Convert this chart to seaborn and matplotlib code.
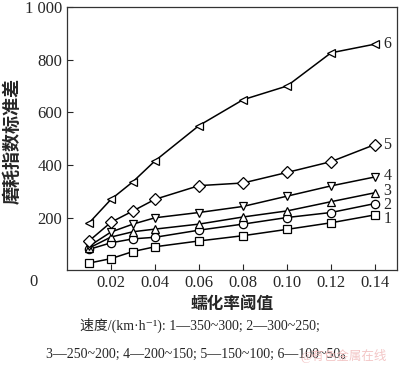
import seaborn as sns
import pandas as pd
import matplotlib.pyplot as plt

# -------------------------------
# DATA
# -------------------------------
thresholds = [0.01, 0.02, 0.03, 0.04, 0.06, 0.08, 0.10, 0.12, 0.14]

s1 = [28, 45, 72, 90, 112, 132, 156, 181, 211]
s2 = [80, 105, 120, 126, 153, 176, 201, 220, 254]
s3 = [85, 127, 147, 157, 176, 203, 226, 261, 295]
s4 = [92, 146, 176, 200, 220, 243, 282, 321, 355]
s5 = [112, 183, 226, 270, 322, 332, 372, 413, 478]
s6 = [180, 270, 337, 416, 550, 648, 700, 826, 859]

series_names = ["1", "2", "3", "4", "5", "6"]
series_vals = [s1, s2, s3, s4, s5, s6]
marker_map = {"1": "s", "2": "o", "3": "^", "4": "v", "5": "D", "6": "<"}

y_ticks = [200, 400, 600, 800, 1000]
y_ticklabels = ["200", "400", "600", "800", "1 000"]
x_ticks = [0.02, 0.04, 0.06, 0.08, 0.10, 0.12, 0.14]
x_ticklabels = ["0.02", "0.04", "0.06", "0.08", "0.10", "0.12", "0.14"]

caption1 = "速度/(km·h⁻¹): 1—350~300; 2—300~250;"
caption2 = "3—250~200; 4—200~150; 5—150~100; 6—100~50。"

rows = []
for name, vals in zip(series_names, series_vals):
    for x, v in zip(thresholds, vals):
        rows.append({"thr": x, "val": v, "series": name})
df = pd.DataFrame(rows)

# -------------------------------
# PLOT
# -------------------------------
sns.set_style("ticks")
plt.rcParams["font.family"] = ["Liberation Serif", "Noto Sans CJK SC", "DejaVu Sans"]

fig = plt.figure(figsize=(4.0, 3.67), dpi=100)
ax = fig.add_axes([0.1675, 0.263, 0.825, 0.718])

sns.lineplot(
    data=df, x="thr", y="val", style="series", markers=marker_map,
    dashes=False, color="black", linewidth=1.1, markersize=6,
    markerfacecolor="white", markeredgecolor="black", markeredgewidth=0.9,
    legend=False, ax=ax,
)

# series labels at the right end (small nudges where they crowd)
label_dy = {"1": -3, "2": -1, "3": 1.5, "4": 0.5, "5": 0, "6": 0}
for name, vals in zip(series_names, series_vals):
    ax.annotate(name, (thresholds[-1], vals[-1]), xytext=(6, label_dy[name]),
                textcoords="offset points", va="center", ha="left", fontsize=11.5)

ax.set_xlim(0, 0.15)
ax.set_ylim(0, 1000)
ax.set_xticks(x_ticks)
ax.set_xticklabels(x_ticklabels, fontsize=12)
ax.set_yticks(y_ticks)
ax.set_yticklabels(y_ticklabels, fontsize=12)
ax.tick_params(direction="in", length=4, width=0.8, top=False, right=False)

for sp in ax.spines.values():
    sp.set_visible(True)
    sp.set_color("#333333")
    sp.set_linewidth(0.9)

ax.text(-0.1, -0.045, "0", transform=ax.transAxes, ha="center", va="center", fontsize=12)

ax.set_xlabel("蠕化率阈值", fontsize=12, fontweight="bold", labelpad=4)
ax.set_ylabel("磨耗指数标准差", fontsize=13, fontweight="bold")
ax.yaxis.set_label_coords(-0.136, 0.49)

fig.text(0.5, 0.112, caption1, ha="center", va="center", fontsize=10)
fig.text(0.5, 0.035, caption2, ha="center", va="center", fontsize=10)
fig.text(0.86, 0.03, "@有色金属在线", ha="center", va="center", fontsize=9,
         color="#f0b8b8", alpha=0.8)

plt.savefig("out.png", dpi=100)
